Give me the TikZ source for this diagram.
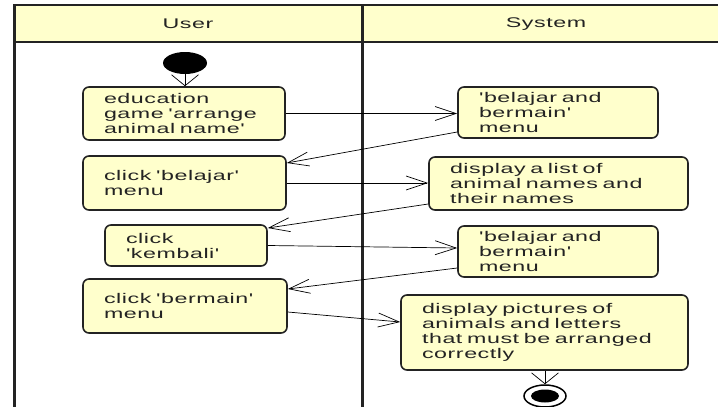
\documentclass[tikz,border=0pt]{standalone}
\usepackage{fontspec}
\setmainfont{Liberation Sans}[FakeStretch=1.66, LetterSpace=4, Ligatures=TeXOff]
\usetikzlibrary{arrows.meta,shapes.geometric}
\definecolor{umlyellow}{RGB}{255,255,204}
\definecolor{umlline}{RGB}{35,35,35}

\begin{document}
\begin{tikzpicture}[x=1pt, y=-1pt,
  act/.style={draw=umlline, line width=1.6pt, fill=umlyellow, rounded corners=6pt,
    align=left, inner xsep=21pt, inner ysep=0pt, text=umlline,
    font=\fontsize{14}{15}\selectfont},
  lane/.style={text=umlline, font=\fontsize{14}{15}\selectfont},
  flowh/.style={-{Straight Barb[length=21pt,width=14pt]}, line width=0.7pt},
  flowv/.style={-{Straight Barb[length=11pt,width=27pt]}, line width=0.7pt}]
  \useasboundingbox (0,0) rectangle (718,407);

  % swimlanes
  \fill[umlyellow] (14,5) rectangle (718,42);
  \draw[umlline, line width=2pt] (14,5) -- (718,5);
  \draw[umlline, line width=2pt] (14,42) -- (718,42);
  \draw[umlline, line width=3pt] (14,4) -- (14,407);
  \draw[umlline, line width=3pt] (362,4) -- (362,407);
  \node[lane] (user) at (188,24) {User};
  \node[lane] (system) at (546,24) {System};

  % start and end
  \node[ellipse, fill=black, minimum width=44pt, minimum height=22pt, inner sep=0pt] (start) at (185,63) {};
  \node[ellipse, draw=black, line width=1.5pt, fill=white, minimum width=42pt, minimum height=22pt, inner sep=0pt] (end) at (545,396) {};
  \node[ellipse, fill=black, minimum width=28pt, minimum height=13pt, inner sep=0pt] (endcore) at (end) {};

  % user actions
  \node[act, text width=160pt, minimum height=53pt] (edu) at (184,113.5) {education\\game 'arrange\\animal name'};
  \node[act, text width=161pt, minimum height=54pt] (belajar) at (184.5,183) {click 'belajar'\\menu};
  \node[act, text width=120pt, minimum height=41pt] (kembali) at (186,245.5) {click\\'kembali'};
  \node[act, text width=162pt, minimum height=54pt] (bermain) at (185,306) {click 'bermain'\\menu};

  % system actions
  \node[act, text width=158pt, minimum height=51pt] (menua) at (558,112.5) {'belajar and\\bermain'\\menu};
  \node[act, text width=217pt, minimum height=53pt] (list) at (558.5,183.5) {display a list of\\animal names and\\their names};
  \node[act, text width=158pt, minimum height=51pt] (menub) at (558,251.5) {'belajar and\\bermain'\\menu};
  \node[act, text width=245pt, minimum height=75pt] (pics) at (544.5,332.5) {display pictures of\\animals and letters\\that must be arranged\\correctly};

  % flows
  \draw[flowv] (start.south) -- (edu.north -| start.south);
  \draw[flowh] (edu.east) -- (edu.east -| menua.west);
  \draw[flowh] ([yshift=-19.5pt]menua.west) -- ([yshift=20pt]belajar.east);
  \draw[flowh] (belajar.east) -- (belajar.east -| list.west);
  \draw[flowh] ([yshift=-20.5pt]list.west) -- ([yshift=17.5pt]kembali.east);
  \draw[flowh] (kembali.east) -- ([yshift=3.5pt]menub.west);
  \draw[flowh] ([yshift=-16.5pt]menub.west) -- ([yshift=17pt]bermain.east);
  \draw[flowh] ([yshift=-6pt]bermain.east) -- ([yshift=10.5pt]pics.west);
  \draw[flowv] (pics.south -| end.north) -- (end.north);
\end{tikzpicture}
\end{document}
